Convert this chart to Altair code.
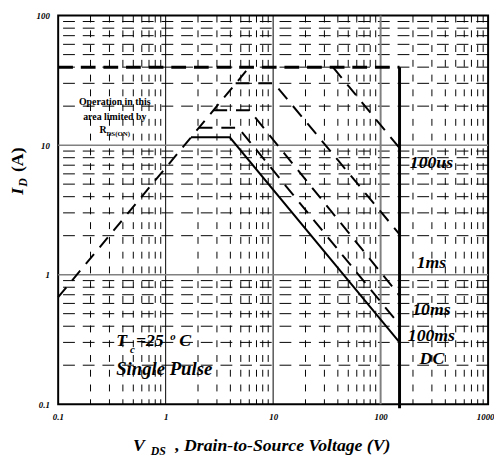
import altair as alt
import pandas as pd

FONT = "Liberation Serif"

# ---------------- data ----------------
x_major = [0.1, 1, 10, 100, 1000]
y_major = [0.1, 1, 10, 100]
minor_mult = [2, 3, 4, 5, 6, 7, 8, 9]
x_decades = [0.1, 1, 10, 100]
y_decades = [0.1, 1, 10]
x_grid_dark = [1, 10]
x_grid_gray = [100]
y_grid_gray = [1, 10]

# R_DS(on) limit
rds_v = [0.1, 6.0]
rds_i = [0.67, 40]

# package current limit / max voltage
limit_h_v = [0.1, 150]
limit_h_i = [40, 40]
limit_v_v = [150, 150]
limit_v_i = [40, 0.093]

curve_names = ["100us", "1ms", "10ms", "100ms", "DC"]
curve_v = [[36, 150], [4.48, 10.2, 150], [2.78, 6.0, 150], [2.03, 4.74, 150], [1.72, 3.95, 150]]
curve_i = [[40, 9.5], [30, 30, 2.05], [18.6, 18.6, 0.69], [13.6, 13.6, 0.41], [11.5, 11.5, 0.30]]

label_v = [297, 297, 297, 297, 300]
label_i = [6.65, 1.13, 0.485, 0.308, 0.205]

# ---------------- tables ----------------
x_minor = [m * d for d in x_decades for m in minor_mult]
y_minor = [m * d for d in y_decades for m in minor_mult]

rows = []
for name, vs, is_ in zip(curve_names, curve_v, curve_i):
    for k, (v, i) in enumerate(zip(vs, is_)):
        rows.append({"name": name, "v": v, "i": i, "k": k})
curves = pd.DataFrame(rows)
dashed_curves = curves[curves["name"] != "DC"]
dc_curve = curves[curves["name"] == "DC"]

labels = pd.DataFrame({"name": curve_names, "v": label_v, "i": label_i})

xscale = alt.Scale(type="log", domain=[0.1, 1000], nice=False)
yscale = alt.Scale(type="log", domain=[0.1, 100], nice=False)

xaxis = alt.Axis(values=x_major, format="~g", title=None, grid=False, ticks=False, tickSize=0,
                 domain=False, labelFont=FONT, labelFontSize=9, labelFontWeight="bold",
                 labelFontStyle="italic", labelPadding=9, labelFlush=True, labelFlushOffset=6,
                 labelOverlap=False, labelColor="black", labelBound=False)
yaxis = alt.Axis(values=y_major, format="~g", title=None, grid=False, ticks=False, tickSize=0,
                 domain=False, labelFont=FONT, labelFontSize=9, labelFontWeight="bold",
                 labelFontStyle="italic", labelPadding=9, labelFlush=False, labelOverlap=False,
                 labelColor="black", labelBound=False)

X = alt.X("v:Q", scale=xscale, axis=xaxis)
Y = alt.Y("i:Q", scale=yscale, axis=yaxis)


def vrules(vals, **kw):
    return alt.Chart(pd.DataFrame({"v": vals})).mark_rule(**kw).encode(x=X)


def hrules(vals, **kw):
    return alt.Chart(pd.DataFrame({"i": vals})).mark_rule(**kw).encode(y=Y)


def seg(vs, is_, **kw):
    df = pd.DataFrame({"v": vs, "i": is_, "k": list(range(len(vs)))})
    return alt.Chart(df).mark_line(**kw).encode(x=X, y=Y, order="k:O")


def ptext(txt, px, py, size, style="italic", weight="bold", align="left", angle=0):
    kw = dict(font=FONT, fontSize=size, fontWeight=weight, fontStyle=style,
              align=align, baseline="alphabetic", color="black")
    if angle:
        kw["angle"] = angle
    return alt.Chart(pd.DataFrame({"t": [txt]})).mark_text(**kw).encode(
        text="t:N", x=alt.value(px), y=alt.value(py))


grid = [
    hrules(y_minor, color="black", strokeWidth=1, strokeDash=[12, 8]),
    vrules(x_minor, color="black", strokeWidth=1, strokeDash=[7, 8]),
    vrules(x_grid_dark, color="black", strokeWidth=1),
    vrules(x_grid_gray, color="#808080", strokeWidth=2),
    hrules(y_grid_gray, color="#808080", strokeWidth=1.5),
]

lines = [
    seg(rds_v, rds_i, color="black", strokeWidth=2, strokeDash=[13, 9]),
    seg(limit_h_v, limit_h_i, color="black", strokeWidth=3, strokeDash=[15, 8]),
    seg(limit_v_v, limit_v_i, color="black", strokeWidth=3),
    alt.Chart(dashed_curves).mark_line(color="black", strokeWidth=2, strokeDash=[14, 9]).encode(
        x=X, y=Y, detail="name:N", order="k:O"),
    alt.Chart(dc_curve).mark_line(color="black", strokeWidth=2).encode(x=X, y=Y, order="k:O"),
]

curve_labels = alt.Chart(labels).mark_text(
    font=FONT, fontSize=18, fontWeight="bold", fontStyle="italic", align="center",
    baseline="alphabetic", color="black").encode(x=X, y=Y, text="name:N")

texts = [
    ptext("Operation in this", 57.5, 91, 10, style="normal", align="center"),
    ptext("area limited by", 57.5, 106.5, 10, style="normal", align="center"),
    ptext("R", 42, 119.7, 10, style="normal"),
    ptext("DS(ON)", 49, 122, 7, style="normal"),
    ptext("T", 59, 336, 18),
    ptext("c", 73, 343, 11),
    ptext("=25", 79, 336, 18),
    ptext("o", 114, 330, 11),
    ptext("C", 123, 336, 18),
    ptext("Single Pulse", 59, 365, 19),
    # y title
    ptext("I", -35.5, 182, 18, angle=270),
    ptext("D", -31.5, 174, 12, angle=270),
    ptext("(A)", -35.5, 159, 18, style="normal", angle=270),
    # x title
    ptext("V", 76, 443, 18),
    ptext("DS", 94, 447, 12),
    ptext(", Drain-to-Source Voltage (V)", 119, 443, 18),
]

chart = alt.layer(*grid, *lines, curve_labels, *texts).properties(
    width=437, height=395,
    autosize=alt.AutoSizeParams(type="none"),
    padding={"left": 51, "top": 4, "right": 6, "bottom": 54},
    background="white",
).configure_view(stroke="black", strokeWidth=2)

chart.save("out.html", embed_options={"renderer": "svg", "actions": False})
